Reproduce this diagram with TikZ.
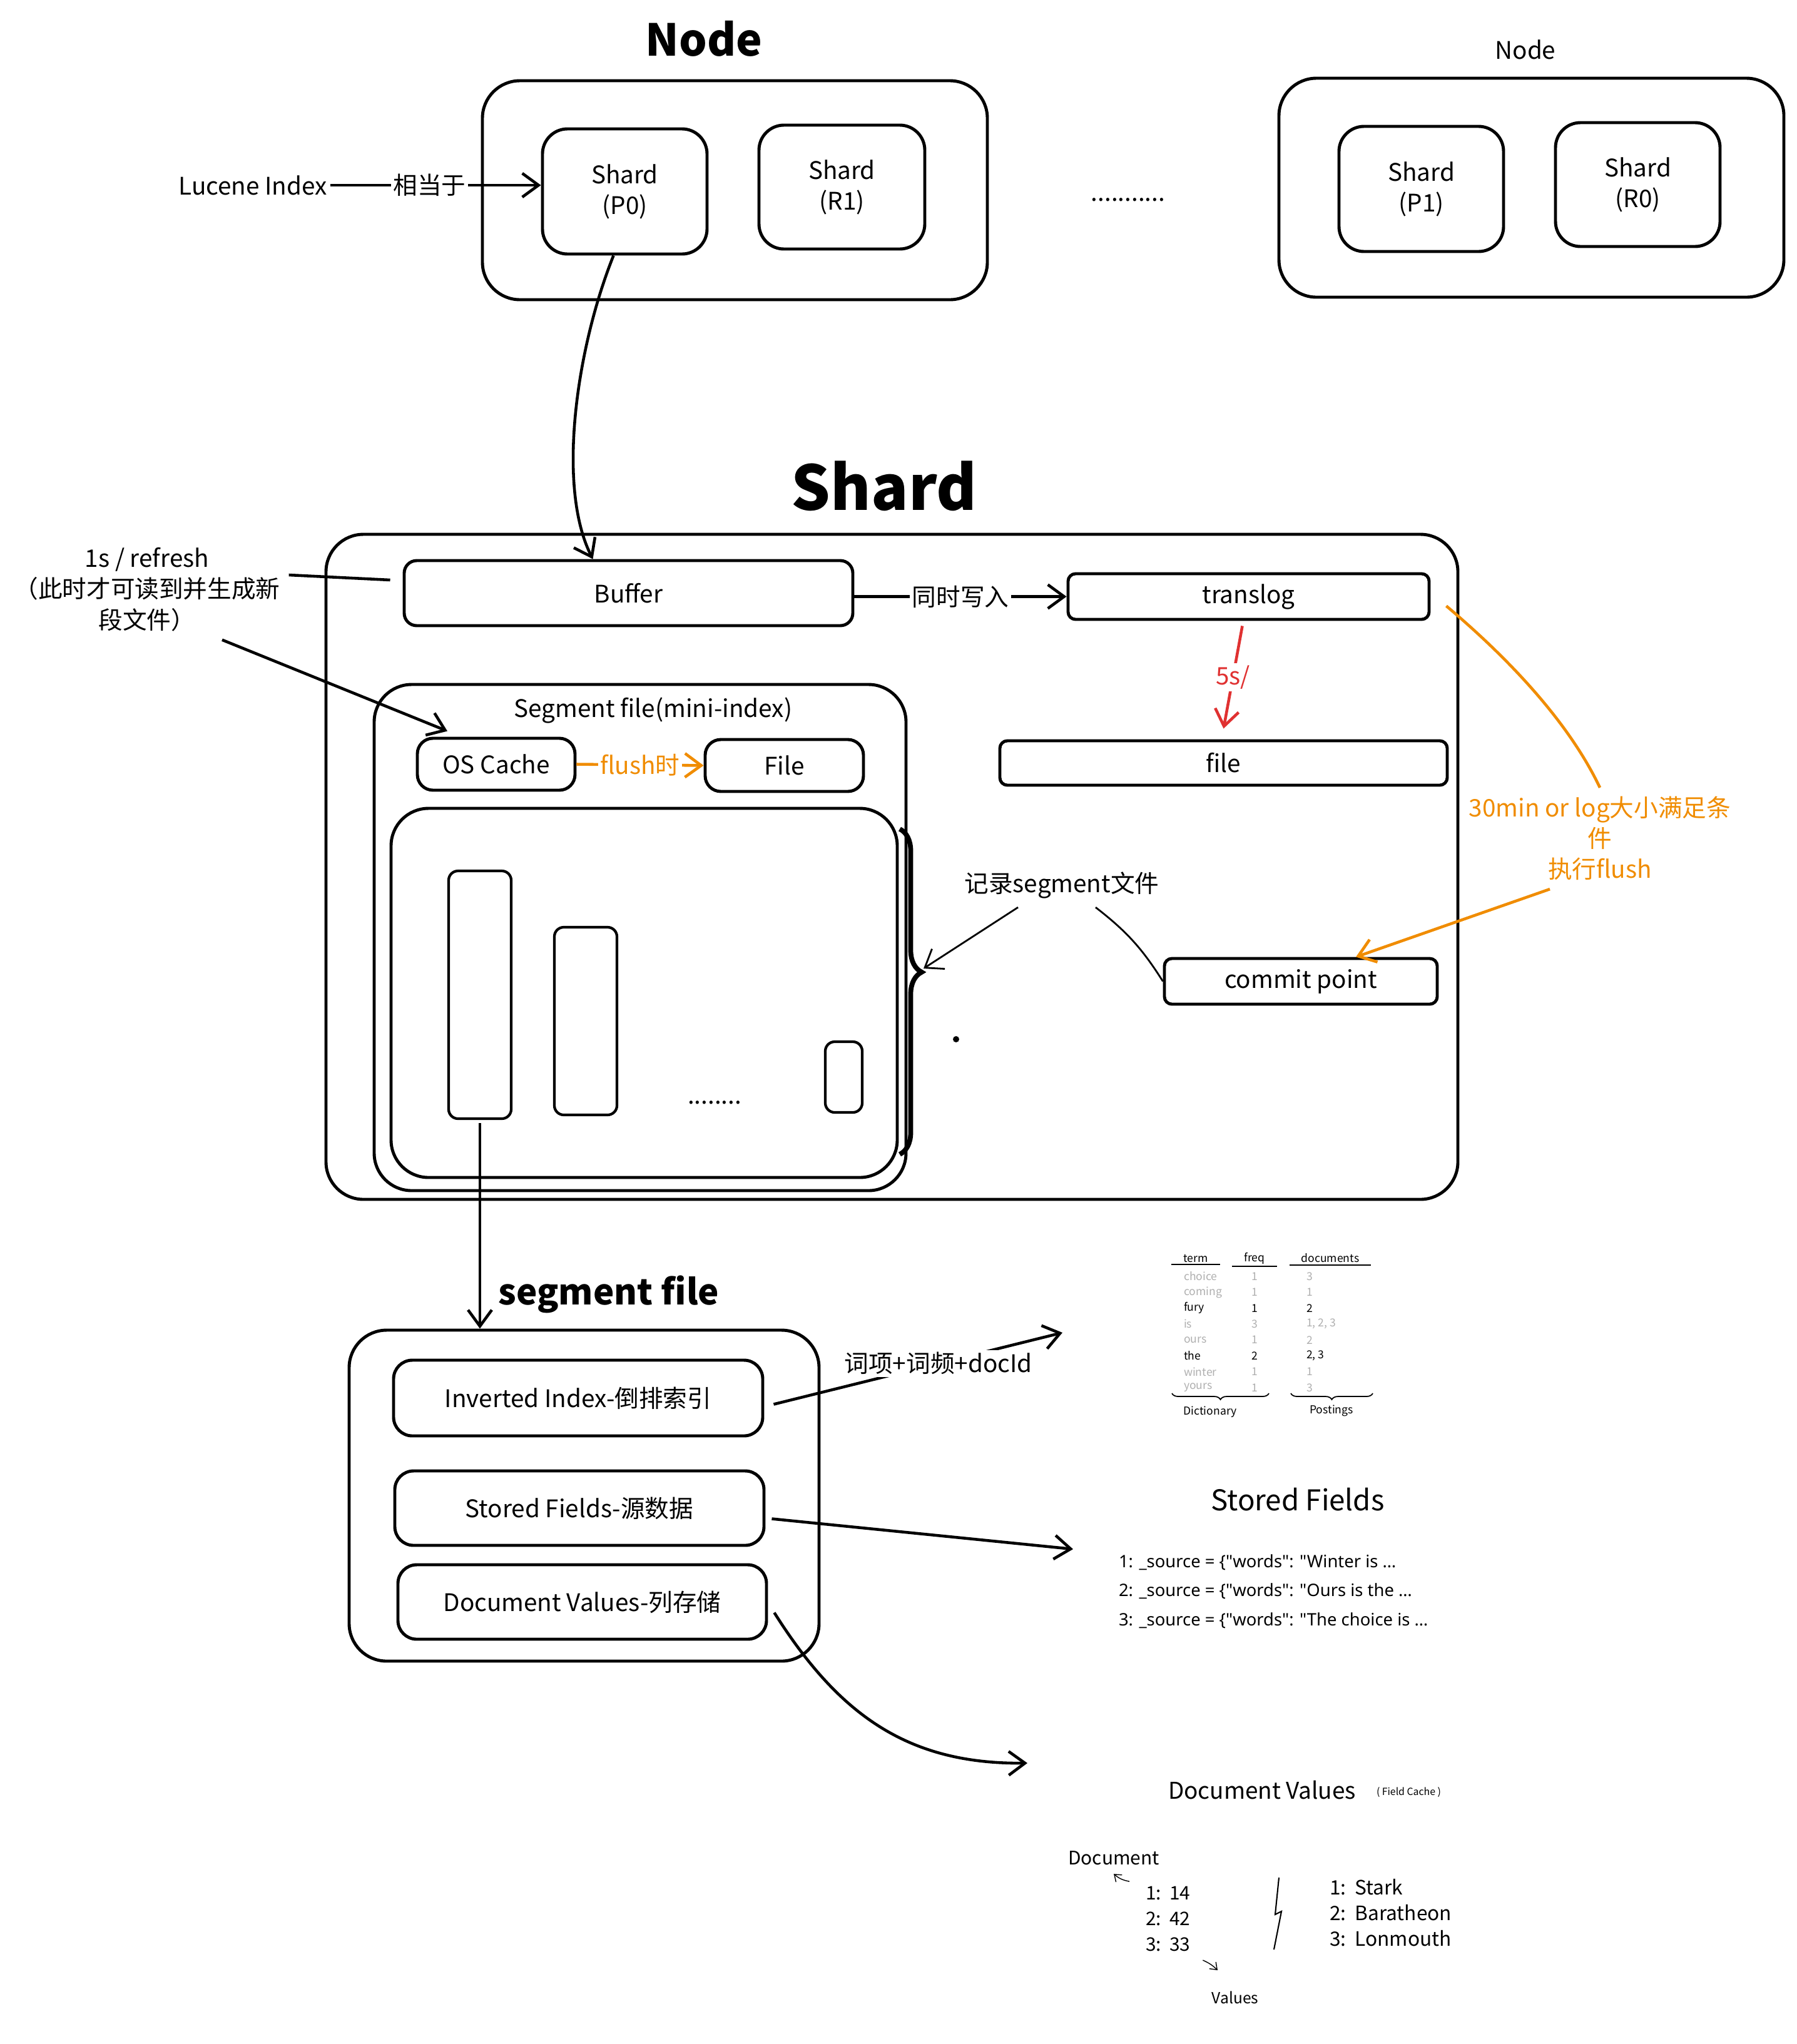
\documentclass[tikz,border=0pt]{standalone}
\usepackage{fontspec}
\setmainfont{Noto Sans CJK SC}
\newfontfamily\latinfont{Noto Sans}
\usetikzlibrary{arrows.meta,decorations.pathreplacing}
\definecolor{flushorange}{RGB}{240,140,0}
\definecolor{logred}{RGB}{224,49,49}
\definecolor{termgray}{RGB}{175,175,175}

\begin{document}
\begin{tikzpicture}[font=\fontsize{11}{14}\selectfont, >={Straight Barb[length=2.6mm,width=3.8mm]}, line width=1.3pt,
      box/.style={draw, line width=1.4pt, rounded corners=0.25cm, align=center, inner sep=0pt},
      bigbox/.style={draw, line width=1.4pt, rounded corners=0.6cm, inner sep=0pt},
      seg/.style={draw, line width=1.2pt, rounded corners=0.15cm, minimum width=1cm},
      lbl/.style={fill=white, inner sep=1pt},
      dict/.style={font=\fontsize{5}{6}\selectfont, inner sep=0.5pt}]
    \useasboundingbox (0,0) rectangle (28.72,-32.67);
    \node[font=\fontsize{20}{24}\selectfont\bfseries] (nodetitle) at (11.25,-0.62) {Node};
    \node[bigbox, minimum width=8.07cm, minimum height=3.5cm] (node1) at (11.745,-3.04) {};
    \node[box, rounded corners=0.4cm, minimum width=2.63cm, minimum height=2cm] (p0) at (9.985,-3.06) {Shard\\(P0)};
    \node[box, rounded corners=0.4cm, minimum width=2.65cm, minimum height=1.98cm] (r1) at (13.455,-2.99) {Shard\\(R1)};
    \node (gap) at (18.03,-3.19) {...........};
    \node (node2title) at (24.38,-0.79) {Node};
    \node[bigbox, minimum width=8.07cm, minimum height=3.5cm] (node2) at (24.475,-3.00) {};
    \node[box, rounded corners=0.4cm, minimum width=2.63cm, minimum height=2cm] (p1) at (22.715,-3.02) {Shard\\(P1)};
    \node[box, rounded corners=0.4cm, minimum width=2.63cm, minimum height=1.98cm] (r0) at (26.175,-2.95) {Shard\\(R0)};
    \node[inner sep=1pt] (lucene) at (4.04,-2.96) {Lucene Index};
    \draw[->] (lucene.east) -- node[lbl, pos=0.47] {相当于} (lucene.east -| p0.west);

    \node[font=\fontsize{28}{32}\selectfont\bfseries] (shardtitle) at (14.13,-7.77) {Shard};
    \node[bigbox, minimum width=18.09cm, minimum height=10.63cm] (shard) at (14.255,-13.855) {};
    \node[box, rounded corners=0.2cm, minimum width=7.17cm, minimum height=1.04cm] (buffer) at (10.045,-9.48) {Buffer};
    \node[box, rounded corners=0.12cm, minimum width=5.77cm, minimum height=0.73cm] (translog) at (19.955,-9.535) {translog};
    \node[box, rounded corners=0.12cm, minimum width=7.15cm, minimum height=0.71cm] (tfile) at (19.555,-12.195) {file};
    \node[box, rounded corners=0.12cm, minimum width=4.36cm, minimum height=0.73cm] (commit) at (20.79,-15.685) {commit point};
    \draw[->] ([xshift=-1.8mm]p0.south) .. controls (9.2,-5.6) and (8.9,-7.8) .. ([xshift=-5.7mm]buffer.north);
    \draw[->] (translog.west -| buffer.east) -- node[lbl] {同时写入} (translog.west);
    \draw[->, logred] ([xshift=-1mm,yshift=-0.8mm]translog.south) -- node[lbl, text=logred] {5s/} ([yshift=1.7mm]tfile.north);
    \node[text=flushorange, align=center] (flushnote) at (25.57,-13.40) {30min or log大小满足条\\件\\执行flush};
    \draw[flushorange] ([xshift=2.5mm,yshift=-1.5mm]translog.east) .. controls (24.2,-10.6) and (25.1,-11.6) .. (flushnote.north);
    \draw[->, flushorange] ([xshift=-0.8cm]flushnote.south) -- ([xshift=8.8mm]commit.north);

    \node[align=center] (refresh) at (2.35,-9.42) {1s / refresh\\（此时才可读到并生成新\\段文件）};
    \draw ([yshift=2.3mm]refresh.east) -- ([xshift=-2mm,yshift=2.1mm]buffer.west);

    \node[bigbox, minimum width=8.5cm, minimum height=8.09cm] (segment) at (10.23,-14.985) {};
    \node (segtitle) at (10.44,-11.36) {Segment file(mini-index)};
    \node[box, minimum width=2.52cm, minimum height=0.83cm] (oscache) at (7.93,-12.215) {OS Cache};
    \node[box, minimum width=2.53cm, minimum height=0.83cm] (diskfile) at (12.535,-12.235) {File};
    \draw[->, flushorange] (oscache.east) -- node[lbl, text=flushorange] {flush时} (diskfile.west);
    \draw[->] ([xshift=12mm]refresh.south) -- ([xshift=-7.8mm,yshift=0.9mm]oscache.north);
    \node[bigbox, minimum width=8.09cm, minimum height=5.9cm] (inner) at (10.295,-15.87) {};
    \node[seg, minimum height=3.96cm] (seg1) at (7.67,-15.90) {};
    \node[seg, minimum height=3.0cm] (seg2) at (9.36,-16.32) {};
    \node[seg, minimum width=0.59cm, minimum height=1.13cm] (seg3) at (13.485,-17.215) {};
    \node (segdots) at (11.42,-17.62) {........};
    \draw[decorate, decoration={brace, amplitude=3.5mm, aspect=0.44}, line width=2.2pt] (14.38,-13.25) -- (14.38,-18.45);
    \coordinate (bracetip) at (14.76,-15.48);
    \fill (15.28,-16.61) circle (0.05);
    \node (record) at (16.97,-14.15) {记录segment文件};
    \draw[->, line width=0.8pt] ([xshift=-7mm]record.south) -- (bracetip);
    \draw[line width=0.8pt] ([xshift=5.4mm]record.south) to[bend left=10] (commit.west);

    \node[font=\fontsize{16}{20}\selectfont\bfseries] (segboxtitle) at (9.73,-20.69) {segment file};
    \node[bigbox, minimum width=7.51cm, minimum height=5.29cm] (segbox) at (9.335,-23.905) {};
    \draw[->] ([yshift=-0.5mm]seg1.south) -- (seg1.south |- segbox.north);
    \node[box, rounded corners=0.3cm, minimum width=5.9cm, minimum height=1.21cm] (inverted) at (9.24,-22.345) {Inverted Index-倒排索引};
    \node[box, rounded corners=0.3cm, minimum width=5.9cm, minimum height=1.19cm] (stored) at (9.26,-24.105) {Stored Fields-源数据};
    \node[box, rounded corners=0.3cm, minimum width=5.89cm, minimum height=1.19cm] (docvalues) at (9.305,-25.605) {Document Values-列存储};
    \coordinate (dictin) at (16.98,-21.30);
    \coordinate (storedin) at (17.15,-24.76);
    \coordinate (dvin) at (16.42,-28.18);
    \draw[->] ([xshift=1.5mm,yshift=-1mm]inverted.east) -- node[lbl, pos=0.57] {词项+词频+docId} (dictin);
    \draw[->] ([xshift=1mm,yshift=-1.7mm]stored.east) -- (storedin);
    \draw[->] ([xshift=1mm,yshift=-1.7mm]docvalues.east) .. controls (13.4,-27.4) and (14.5,-28.2) .. (dvin);

    \node[dict] (hterm) at (19.11,-20.11) {term};
    \node[dict] (hfreq) at (20.05,-20.11) {freq};
    \node[dict] (hdocs) at (21.26,-20.11) {documents};
    \foreach \h in {hterm, hfreq, hdocs}
      \draw[line width=0.5pt] ([xshift=-1.5mm]\h.south west) -- ([xshift=1.5mm]\h.south east);
    \foreach \term/\freq/\docs/\col [count=\i] in {choice/1/3/termgray, coming/1/1/termgray, fury/1/2/black, is/3/{1, 2, 3}/termgray, ours/1/2/termgray, the/2/{2, 3}/black, winter/1/1/termgray, yours/1/3/termgray} {
      \node[dict, anchor=west, text=\col] (term\i) at (18.88,{-20.40-(\i-1)*0.254}) {\term};
      \node[dict, text=\col] (freq\i) at (20.05,{-20.40-(\i-1)*0.254}) {\freq};
      \node[dict, anchor=west, text=\col] (docs\i) at (20.84,{-20.40-(\i-1)*0.254}) {\docs};
    }
    \draw[decorate, decoration={brace, mirror, amplitude=1mm}, line width=0.5pt] (18.73,-22.27) -- (20.28,-22.27);
    \draw[decorate, decoration={brace, mirror, amplitude=1mm}, line width=0.5pt] (20.63,-22.27) -- (21.94,-22.27);
    \node[dict] (dictionary) at (19.34,-22.57) {Dictionary};
    \node[dict] (postings) at (21.28,-22.55) {Postings};

    \node[font=\fontsize{13}{16}\selectfont] (sftitle) at (20.74,-23.97) {Stored Fields};
    \foreach \n/\txt [count=\i] in {1/{Winter is \ldots}, 2/{Ours is the \ldots}, 3/{The choice is \ldots}}
      \node[anchor=west, font=\latinfont\fontsize{7.8}{9}\selectfont] (src\i) at (17.74,{-24.97-(\i-1)*0.465}) {\n: \_source = \{"words": "\txt};

    \node[font=\fontsize{10.5}{12}\selectfont] (dvtitle) at (20.17,-28.61) {Document Values};
    \node[anchor=west, font=\fontsize{4.5}{5}\selectfont] (fcache) at (21.86,-28.65) {( Field Cache )};
    \node[font=\fontsize{8.5}{10}\selectfont] (doclbl) at (17.80,-29.70) {Document};
    \foreach \n/\v [count=\i] in {1/14, 2/42, 3/33}
      \node[anchor=west, font=\fontsize{8.5}{10}\selectfont] (num\i) at (18.17,{-30.26-(\i-1)*0.41}) {\n:\ \ \v};
    \node[font=\fontsize{7}{8}\selectfont] (valueslbl) at (19.74,-31.93) {Values};
    \draw[->, line width=0.4pt, >={Straight Barb[length=1mm,width=1.5mm]}] ([xshift=-1.2mm,yshift=-0.6mm]num1.north west) to[bend left=15] (doclbl.south);
    \draw[->, line width=0.4pt, >={Straight Barb[length=1mm,width=1.5mm]}] ([xshift=0.6mm]num3.south east) to[bend left=10] ([xshift=-2.8mm,yshift=2mm]valueslbl.north);
    \draw[line width=0.6pt] (20.44,-30.01) -- (20.38,-30.60) -- (20.48,-30.55) -- (20.36,-31.16);
    \foreach \n/\v [count=\i] in {1/Stark, 2/Baratheon, 3/Lonmouth}
      \node[anchor=west, font=\fontsize{9}{11}\selectfont] (house\i) at (21.11,{-30.16-(\i-1)*0.41}) {\n:\ \ \v};
  \end{tikzpicture}
\end{document}
